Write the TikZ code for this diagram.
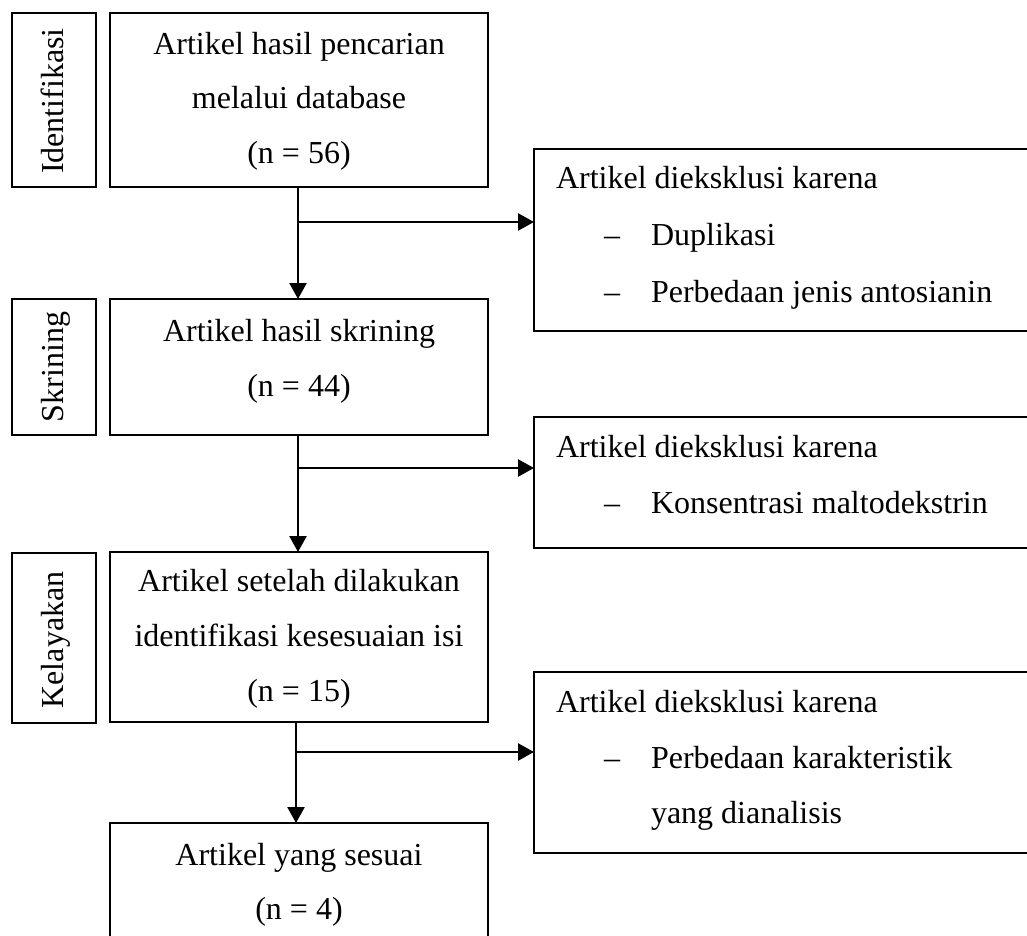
\documentclass[tikz,border=0pt]{standalone}
\usepackage{fontspec}
\setmainfont{Liberation Serif}
\usetikzlibrary{arrows.meta}
\tikzset{
  frame/.style={draw, rectangle, line width=2.6pt, inner sep=0pt, outer sep=0pt},
  txt/.style={inner sep=0pt, outer sep=0pt, anchor=base, font=\fontsize{32}{38}\selectfont},
  txtl/.style={txt, anchor=base west},
  vtxt/.style={txt, rotate=90},
  arr/.style={line width=2.6pt, -{Triangle[length=16pt,width=17pt]}},
}
\begin{document}
\begin{tikzpicture}[x=1pt,y=-1pt]
\useasboundingbox (0,0) rectangle (1027,936);
\clip (0,0) rectangle (1027,936);
% stage labels
\node[frame, minimum width=84pt, minimum height=174pt] (l1) at (54,100) {};
\node[frame, minimum width=84pt, minimum height=136pt] (l2) at (54,367) {};
\node[frame, minimum width=84pt, minimum height=170pt] (l3) at (54,638) {};
\node[vtxt] (l1t) at (63.5,101) {Identifikasi};
\node[vtxt] (l2t) at (63.5,367) {Skrining};
\node[vtxt] (l3t) at (63.5,640) {Kelayakan};
% main boxes
\node[frame, minimum width=378pt, minimum height=174pt] (b1) at (299,100) {};
\node[frame, minimum width=378pt, minimum height=136pt] (b2) at (299,367) {};
\node[frame, minimum width=378pt, minimum height=170pt] (b3) at (299,637) {};
\node[frame, minimum width=378pt, minimum height=122pt] (b4) at (299,884) {};
\node[txt] (b1a) at (299,54.3) {Artikel hasil pencarian};
\node[txt] (b1b) at (299,109) {melalui database};
\node[txt] (b1c) at (299,163.3) {(n = 56)};
\node[txt] (b2a) at (299,341.7) {Artikel hasil skrining};
\node[txt] (b2b) at (299,396.7) {(n = 44)};
\node[txt] (b3a) at (299,591.7) {Artikel setelah dilakukan};
\node[txt] (b3b) at (299,646.7) {identifikasi kesesuaian isi};
\node[txt] (b3c) at (299,701.7) {(n = 15)};
\node[txt] (b4a) at (299,865) {Artikel yang sesuai};
\node[txt] (b4b) at (299,919) {(n = 4)};
% exclusion boxes
\node[frame, minimum width=506pt, minimum height=182pt] (r1) at (787,240) {};
\node[frame, minimum width=506pt, minimum height=131pt] (r2) at (787,482.5) {};
\node[frame, minimum width=506pt, minimum height=181pt] (r3) at (787,762.5) {};
\node[txtl] (r1a) at (556,189) {Artikel dieksklusi karena};
\node[txtl] (r1d1) at (604,245.5) {–};
\node[txtl] (r1b) at (651,245.5) {Duplikasi};
\node[txtl] (r1d2) at (604,302) {–};
\node[txtl] (r1c) at (651,302) {Perbedaan jenis antosianin};
\node[txtl] (r2a) at (556,457) {Artikel dieksklusi karena};
\node[txtl] (r2d1) at (604,513) {–};
\node[txtl] (r2b) at (651,513) {Konsentrasi maltodekstrin};
\node[txtl] (r3a) at (556,712) {Artikel dieksklusi karena};
\node[txtl] (r3d1) at (604,768) {–};
\node[txtl] (r3b) at (651,768) {Perbedaan karakteristik};
\node[txtl] (r3c) at (651,823) {yang dianalisis};
% connectors
\coordinate (j1) at (298,222);
\coordinate (j2) at (298,468);
\coordinate (j3) at (296,752);
\draw[arr] (b1.south -| j1) -- (b2.north -| j1);
\draw[arr] (j1) -- (j1 -| r1.west);
\draw[arr] (b2.south -| j2) -- (b3.north -| j2);
\draw[arr] (j2) -- (j2 -| r2.west);
\draw[arr] (b3.south -| j3) -- (b4.north -| j3);
\draw[arr] (j3) -- (j3 -| r3.west);
\end{tikzpicture}
\end{document}
